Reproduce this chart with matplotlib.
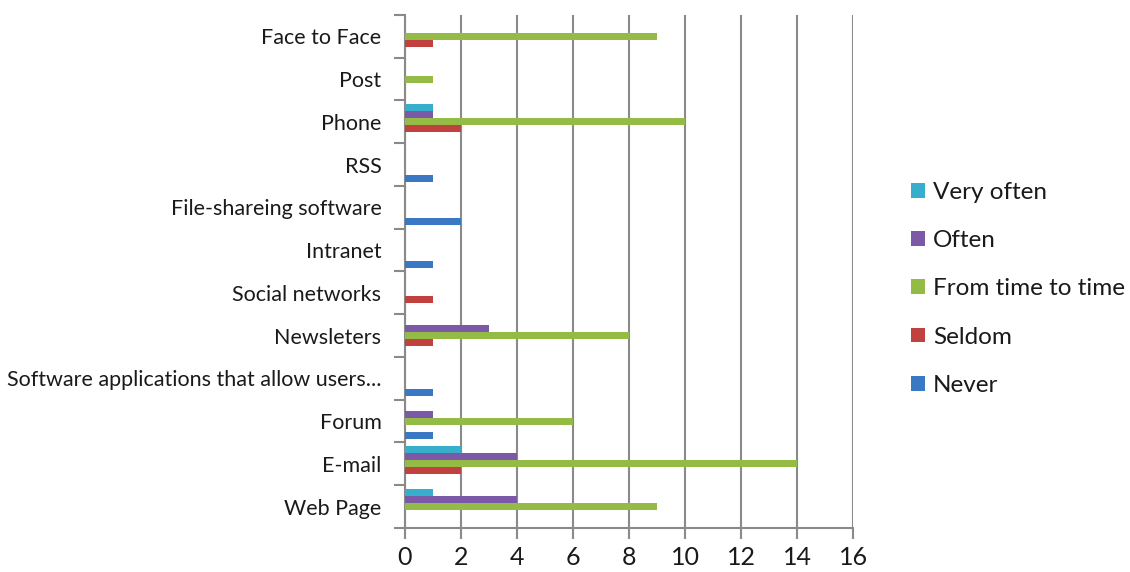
import numpy as np
import matplotlib
matplotlib.use("Agg")
import matplotlib.pyplot as plt
from matplotlib.patches import Patch

plt.rcParams['font.family'] = ['Lato', 'DejaVu Sans']

# -----------------------------
# DATA
# -----------------------------
categories = ["Web Page", "E-mail", "Forum", "Software applications that allow users...",
              "Newsleters", "Social networks", "Intranet", "File-shareing software",
              "RSS", "Phone", "Post", "Face to Face"]

never        = [0, 0, 1, 1, 0, 0, 1, 2, 1, 0, 0, 0]
seldom       = [0, 2, 0, 0, 1, 1, 0, 0, 0, 2, 0, 1]
time_to_time = [9, 14, 6, 0, 8, 0, 0, 0, 0, 10, 1, 9]
often        = [4, 4, 1, 0, 3, 0, 0, 0, 0, 1, 0, 0]
very_often   = [1, 2, 0, 0, 0, 0, 0, 0, 0, 1, 0, 0]

series_names = ["Never", "Seldom", "From time to time", "Often", "Very often"]
series_vals = [never, seldom, time_to_time, often, very_often]
colors = ["#3a78c3", "#c0413d", "#93bb45", "#7b59a6", "#37aecb"]

# -----------------------------
# PLOT
# -----------------------------
fig = plt.figure(figsize=(11.3, 5.72), dpi=100)
ax = fig.add_axes([0.3584, 0.0769, 0.3965, 0.897])

y = np.arange(len(categories))
h = 0.164
for i, (name, vals, c) in enumerate(zip(series_names, series_vals, colors)):
    ax.barh(y + (i - 2) * h, vals, height=h, color=c, label=name, zorder=3)

ax.set_xlim(0, 16)
ax.set_ylim(-0.5, len(categories) - 0.5)
ax.set_xticks(range(0, 17, 2))
ax.set_yticks(y)
ax.set_yticklabels(categories)
ax.set_yticks(np.arange(-0.5, len(categories), 1), minor=True)

ax.xaxis.grid(True, color="#8a8a8a", linewidth=1.5, zorder=0)
ax.set_axisbelow(True)

for s in ["top", "right"]:
    ax.spines[s].set_visible(False)
for s in ["left", "bottom"]:
    ax.spines[s].set_color("#8a8a8a")
    ax.spines[s].set_linewidth(1.5)

ax.tick_params(axis="y", which="major", length=0, pad=17, labelsize=15.5, labelcolor="#1a1a1a")
ax.tick_params(axis="y", which="minor", length=8, width=1.5, color="#8a8a8a", direction="out")
ax.tick_params(axis="x", which="major", length=8, width=1.5, color="#8a8a8a", direction="out",
               pad=5, labelsize=18, labelcolor="#1a1a1a")

handles = [Patch(facecolor=c, label=n) for n, c in zip(series_names, colors)][::-1]
fig.legend(handles=handles, loc="center left", bbox_to_anchor=(0.787, 0.495), frameon=False,
           fontsize=17.5, labelspacing=1.12, handlelength=0.55, handleheight=0.55,
           handletextpad=0.35, labelcolor="#1a1a1a")

fig.savefig("out.png", dpi=100)
plt.close()
